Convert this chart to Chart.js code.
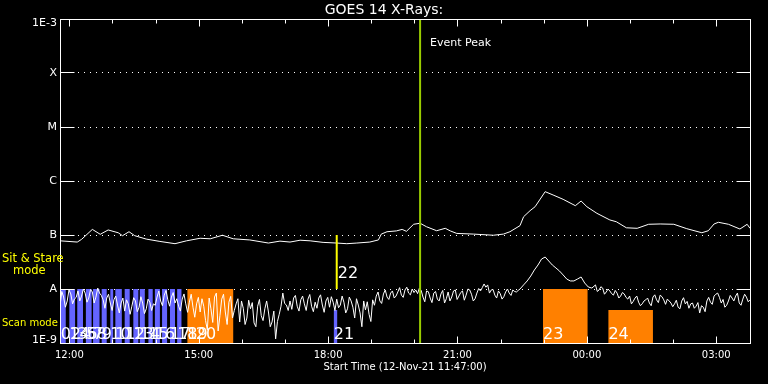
<!DOCTYPE html>
<html><head><meta charset="utf-8">
<script src="https://cdn.jsdelivr.net/npm/chart.js@4/dist/chart.umd.min.js"></script>
<style>html,body{margin:0;padding:0;background:#000;overflow:hidden}canvas{display:block}</style>
</head><body><canvas id="c" width="768" height="384"></canvas>
<script>
// ---- texts ----
const chartTitle = 'GOES 14 X-Rays:';
const xAxisTitle = 'Start Time (12-Nov-21 11:47:00)';
const eventPeakLabel = 'Event Peak';
const stareModeLabel = ['Sit & Stare', 'mode'];
const scanModeLabel = 'Scan mode';

// ---- time axis: minutes after 12-Nov-21 11:47:00 ----
const timeMax = 960;
const xTickMinutes = [13, 193, 373, 553, 733, 913];
const xTickLabels = ['12:00', '15:00', '18:00', '21:00', '00:00', '03:00'];
const xMinorMinutes = [13, 73, 133, 193, 253, 313, 373, 433, 493, 553, 613, 673, 733, 793, 853, 913];

// ---- flux axis, in units of 1E-9 W/m^2 ----
const yTickValues = [1, 10, 100, 1000, 10000, 100000, 1000000];
const yTickLabels = ['1E-9', 'A', 'B', 'C', 'M', 'X', '1E-3'];

// ---- long channel (upper curve) ----
const longTimes = [0,24,30,45,56,67,81,87,96,104,120,139,160,176,195,209,226,241,264,290,
  306,320,334,348,366,385,399,413,431,443,447,455,468,476,482,492,501,510,524,536,
  543,552,575,603,617,626,640,645,654,661,675,686,700,717,725,733,747,765,774,788,
  803,819,835,854,872,893,902,910,916,930,946,956,960];
const longFlux = [78,74,83,127,103,124,110,97,115,97,84,76,69,78,87,85,99,85,81,71,
  77,74,80,78,73,71,69,71,74,81,104,115,119,127,117,158,165,142,120,133,
  119,107,104,99,104,115,149,218,282,334,634,551,458,349,426,334,252,190,176,136,
  133,158,160,158,131,110,120,160,172,158,129,158,133];

// ---- short channel (lower curve) ----
const shortTimes = [
  0,2.5,5,7.5,10,12.5,15,17.5,20,22.5,
  25,27.5,30,32.5,35,37.5,40,42.5,45,47.5,
  50,52.5,55,57.5,60,62.5,65,67.5,70,72.5,
  75,77.5,80,82.5,85,87.5,90,92.5,95,97.5,
  100,102.5,105,107.5,110,112.5,115,117.5,120,122.5,
  125,127.5,130,132.5,135,137.5,140,142.5,145,147.5,
  150,152.5,155,157.5,160,162.5,165,167.5,170,172.5,
  175,177.5,180,182.5,185,187.5,190,192.5,195,197.5,
  200,202.5,205,207.5,210,212.5,215,217.5,220,222.5,
  225,227.5,230,232.5,235,237.5,240,242.5,245,247.5,
  250,252.5,255,257.5,260,262.5,265,267.5,270,272.5,
  275,277.5,280,282.5,285,287.5,290,292.5,295,297.5,
  300,302.5,305,307.5,310,312.5,315,317.5,320,322.5,
  325,327.5,330,332.5,335,337.5,340,342.5,345,347.5,
  350,352.5,355,357.5,360,362.5,365,367.5,370,372.5,
  375,377.5,380,382.5,385,387.5,390,392.5,395,397.5,
  400,402.5,405,407.5,410,412.5,415,417.5,420,422.5,
  425,427.5,430,432.5,435,437.5,440,442.5,445,447.5,
  450,452.5,455,457.5,460,462.5,465,467.5,470,472.5,
  475,477.5,480,482.5,485,487.5,490,492.5,495,497.5,
  500,502.5,505,507.5,510,512.5,515,517.5,520,522.5,
  525,527.5,530,532.5,535,537.5,540,542.5,545,547.5,
  550,552.5,555,557.5,560,562.5,565,567.5,570,572.5,
  575,577.5,580,582.5,585,587.5,590,592.5,595,597.5,
  600,602.5,605,607.5,610,612.5,615,617.5,620,622.5,
  625,627.5,630,632.5,635,637.5,640,645,650,655,
  660,665,670,675,680,685,690,695,700,705,
  710,715,720,725,730,735,740,745,747.5,750,
  752.5,755,757.5,760,762.5,765,767.5,770,772.5,775,
  777.5,780,782.5,785,787.5,790,792.5,795,797.5,800,
  802.5,805,807.5,810,812.5,815,817.5,820,822.5,825,
  827.5,830,832.5,835,837.5,840,842.5,845,847.5,850,
  852.5,855,857.5,860,862.5,865,867.5,870,872.5,875,
  877.5,880,882.5,885,887.5,890,892.5,895,897.5,900,
  902.5,905,907.5,910,912.5,915,917.5,920,922.5,925,
  927.5,930,932.5,935,937.5,940,942.5,945,947.5,950,
  952.5,955,957.5,960];
const shortFlux = [
  4.8,9.0,7.1,4.6,6.0,9.6,8.1,5.3,6.5,7.0,
  9.2,6.0,7.4,10.0,8.4,5.7,6.8,9.8,8.8,5.5,
  7.1,10.4,8.4,7.6,6.3,4.4,6.8,8.0,5.5,4.0,
  6.3,7.4,5.05,3.6,5.5,6.8,3.9,6.3,5.3,3.4,
  4.8,6.9,6.0,3.8,4.6,7.2,5.5,3.5,4.3,6.5,
  5.7,4.0,5.3,5.0,7.1,9.2,6.0,4.9,7.7,9.4,
  6.3,4.8,7.1,8.6,5.5,6.6,4.8,3.9,6.5,8.1,
  5.3,3.7,5.7,8.0,4.6,3.0,5.3,7.0,3.75,6.6,
  4.8,2.6,1.74,6.8,4.3,2.4,7.1,8.4,1.67,3.2,
  6.5,8.0,3.75,2.2,5.7,7.3,2.9,4.0,5.3,6.6,
  2.45,6.0,4.4,2.2,2.9,6.2,4.3,5.6,2.35,2.0,
  4.8,6.4,3.2,2.6,4.3,6.0,3.75,2.0,2.45,3.9,
  1.19,2.5,3.4,4.8,8.4,5.4,5.05,4.0,6.0,4.2,
  6.8,7.6,4.8,3.9,6.3,7.4,5.3,4.0,6.5,7.9,
  4.8,3.8,5.7,4.4,6.8,7.8,5.05,3.7,6.0,7.0,
  4.6,7.2,5.7,4.0,6.5,4.5,5.05,7.4,5.7,3.6,
  4.3,7.1,6.0,4.6,2.9,6.6,5.05,3.6,2.0,6.0,
  4.1,5.8,3.4,2.5,6.3,5.0,7.4,8.8,6.0,5.4,
  8.1,9.6,7.1,6.4,8.4,9.2,6.8,7.4,8.8,10.6,
  7.7,7.0,9.6,10.8,8.4,7.8,10.0,8.6,9.6,8.2,
  10.4,9.4,7.1,5.8,9.2,8.9,6.8,5.6,8.4,9.0,
  6.5,6.0,8.1,9.4,5.5,6.6,8.8,6.0,7.1,9.2,
  9.6,6.4,7.4,8.6,9.2,6.2,7.7,10.0,9.6,8.0,
  6.0,6.6,8.4,10.2,9.2,10.6,12.4,10.8,11.9,8.4,
  9.6,9.8,7.7,6.8,9.2,8.2,6.5,7.2,8.8,10.0,
  8.4,7.6,9.6,9.0,8.8,9.4,10.0,11.9,14.1,17.4,
  22.5,27.8,35.9,39.1,33.0,27.8,24.5,21.5,18.2,15.3,
  14.1,14.1,15.3,16.7,12.9,10.9,10.4,11.9,9.0,9.6,
  11.0,10.4,8.0,8.8,10.0,9.2,8.2,7.7,9.4,8.4,
  6.8,7.4,8.6,8.1,7.0,6.5,7.4,5.3,5.9,6.8,
  7.4,5.7,4.9,5.3,6.0,6.3,6.8,5.5,4.9,7.1,
  7.8,6.3,5.6,7.7,7.2,6.3,5.2,6.5,6.0,5.5,
  4.7,5.3,6.2,4.6,4.3,6.0,6.9,5.3,5.9,4.4,
  5.3,5.5,4.4,4.8,5.6,3.6,4.9,4.6,3.8,6.0,
  7.0,5.7,5.2,7.4,8.0,8.4,7.0,5.5,6.4,4.6,
  5.0,6.0,7.6,6.8,6.0,7.4,8.4,5.5,5.0,6.5,
  8.0,7.1,5.8,6.3];

// ---- observation bars ----
const blueLabels = ['0','1','2','3','4','5','6','7','8','9','10','11','12','13','14','15','16','','17','18','21'];
const blueStart = [1,13,15,24,27,36,38,46,51,58,70,77,90,102,111,123,132,142,153,163,381];
const blueEnd   = [8,15,21,27,32,38,44,51,55,65,74,86,97,109,118,129,139,149,160,169,386];
const blueTop   = [10,10,10,10,10,10,10,10,10,10,10,10,10,10,10,10,10,10,10,10,4.1];
const orangeLabels = ['19','20','23','24'];
const orangeStart = [177,189,672,763];
const orangeEnd   = [189,241,734,825];
const orangeTop   = [10,10,10,4.1];
const stareLabels = ['22'];
const stareTime = [385];
const stareLow = [10];
const stareHigh = [100];
const eventPeakTime = 501;

// ---- build library data ----
const FLOOR = yTickValues[0];
const CEIL = yTickValues[yTickValues.length - 1];
function barPoints(starts, ends, tops) {
  const pts = [];
  starts.forEach((s, i) => {
    pts.push({x: s, y: FLOOR}, {x: s, y: tops[i]}, {x: ends[i], y: tops[i]}, {x: ends[i], y: FLOOR});
  });
  return pts;
}
const toXY = (xs, ys) => xs.map((t, i) => ({x: t, y: ys[i]}));

const FONT = '"DejaVu Sans", "Liberation Sans", sans-serif';
const BLUE = '#6464ff', ORANGE = '#ff8000', YELLOW = '#ffff00', GREEN = '#99cc00';

const deco = {
  id: 'deco',
  beforeDatasetsDraw(chart) {
    const {ctx, chartArea: a, scales: {y}} = chart;
    ctx.save();
    ctx.strokeStyle = '#fff';
    ctx.lineWidth = 1;
    ctx.setLineDash([1, 5]);
    yTickValues.slice(1, -1).forEach(v => {
      const py = Math.floor(y.getPixelForValue(v)) + 0.5;
      ctx.beginPath(); ctx.moveTo(a.left + 18, py); ctx.lineTo(a.right - 14, py); ctx.stroke();
    });
    ctx.restore();
  },
  afterDatasetsDraw(chart) {
    const {ctx, chartArea: a, scales: {x, y}} = chart;
    ctx.save();
    ctx.strokeStyle = '#fff';
    ctx.lineWidth = 1;
    const L = a.left + 0.5, R = a.right + 0.5, T = a.top + 0.5, B = a.bottom + 0.5;
    ctx.strokeRect(L, T, R - L, B - T);
    ctx.beginPath();
    yTickValues.slice(1, -1).forEach(v => {
      const py = Math.floor(y.getPixelForValue(v)) + 0.5;
      ctx.moveTo(L, py); ctx.lineTo(L + 14, py);
      ctx.moveTo(R - 14, py); ctx.lineTo(R, py);
    });
    xMinorMinutes.forEach(m => {
      const len = xTickMinutes.includes(m) ? 7 : 4;
      const px = Math.round(x.getPixelForValue(m)) + 0.5;
      ctx.moveTo(px, B); ctx.lineTo(px, B - len);
      ctx.moveTo(px, T); ctx.lineTo(px, T + len);
    });
    ctx.stroke();

    ctx.fillStyle = '#fff';
    // y labels
    ctx.font = '11px ' + FONT;
    ctx.textAlign = 'right';
    ctx.textBaseline = 'middle';
    yTickValues.forEach((v, i) => {
      let py = y.getPixelForValue(v);
      py = Math.min(Math.max(py, a.top + 4), a.bottom - 3);
      ctx.fillText(yTickLabels[i], a.left - 3, py);
    });
    // x labels
    ctx.font = '10px ' + FONT;
    ctx.textAlign = 'center';
    xTickMinutes.forEach((m, i) => ctx.fillText(xTickLabels[i], x.getPixelForValue(m), a.bottom + 12));
    ctx.fillText(xAxisTitle, 405, a.bottom + 24);
    // title
    ctx.font = '14px ' + FONT;
    ctx.fillText(chartTitle, 384, 10);
    // event peak
    ctx.font = '11px ' + FONT;
    ctx.textAlign = 'left';
    ctx.fillText(eventPeakLabel, x.getPixelForValue(eventPeakTime) + 10, 43);
    // mode labels
    ctx.fillStyle = YELLOW;
    ctx.font = '11.5px ' + FONT;
    ctx.fillText(stareModeLabel[0], 2, 259);
    ctx.fillText(stareModeLabel[1], 13, 271);
    ctx.font = '10px ' + FONT;
    ctx.fillText(scanModeLabel, 2, 323);
    // bar labels
    ctx.fillStyle = '#fff';
    ctx.font = '16px ' + FONT;
    ctx.textBaseline = 'alphabetic';
    blueLabels.forEach((t, i) => ctx.fillText(t, x.getPixelForValue(blueStart[i]), a.bottom - 4));
    orangeLabels.forEach((t, i) => ctx.fillText(t, x.getPixelForValue(orangeStart[i]), a.bottom - 4));
    stareLabels.forEach((t, i) => ctx.fillText(t, x.getPixelForValue(stareTime[i]) + 1, y.getPixelForValue(stareLow[i]) - 11));
    ctx.restore();
  }
};

const lineBase = {type: 'line', pointRadius: 0, tension: 0, fill: false};
new Chart(document.getElementById('c'), {
  data: {
    datasets: [
      Object.assign({}, lineBase, {label: 'Event peak', order: 0, borderColor: GREEN, borderWidth: 2,
        data: [{x: eventPeakTime, y: FLOOR}, {x: eventPeakTime, y: CEIL}]}),
      Object.assign({}, lineBase, {label: 'Sit & Stare', order: 1, borderColor: YELLOW, borderWidth: 2,
        data: [{x: stareTime[0], y: stareLow[0]}, {x: stareTime[0], y: stareHigh[0]}]}),
      Object.assign({}, lineBase, {label: 'Long', order: 2, borderColor: '#fff', borderWidth: 1,
        data: toXY(longTimes, longFlux)}),
      Object.assign({}, lineBase, {label: 'Short', order: 3, borderColor: '#fff', borderWidth: 1,
        data: toXY(shortTimes, shortFlux)}),
      Object.assign({}, lineBase, {label: 'Orange bars', order: 4, borderWidth: 0, borderColor: 'rgba(0,0,0,0)',
        backgroundColor: ORANGE, fill: 'start', data: barPoints(orangeStart, orangeEnd, orangeTop)}),
      Object.assign({}, lineBase, {label: 'Blue bars', order: 5, borderWidth: 0, borderColor: 'rgba(0,0,0,0)',
        backgroundColor: BLUE, fill: 'start', data: barPoints(blueStart, blueEnd, blueTop)})
    ]
  },
  options: {
    responsive: false,
    animation: false,
    devicePixelRatio: 1,
    layout: {padding: {left: 60, right: 18, top: 19, bottom: 41}},
    plugins: {legend: {display: false}, tooltip: {enabled: false}, title: {display: false}},
    scales: {
      x: {type: 'linear', min: 0, max: timeMax, display: false},
      y: {type: 'logarithmic', min: FLOOR, max: CEIL, display: false}
    }
  },
  plugins: [deco]
});
</script></body></html>
